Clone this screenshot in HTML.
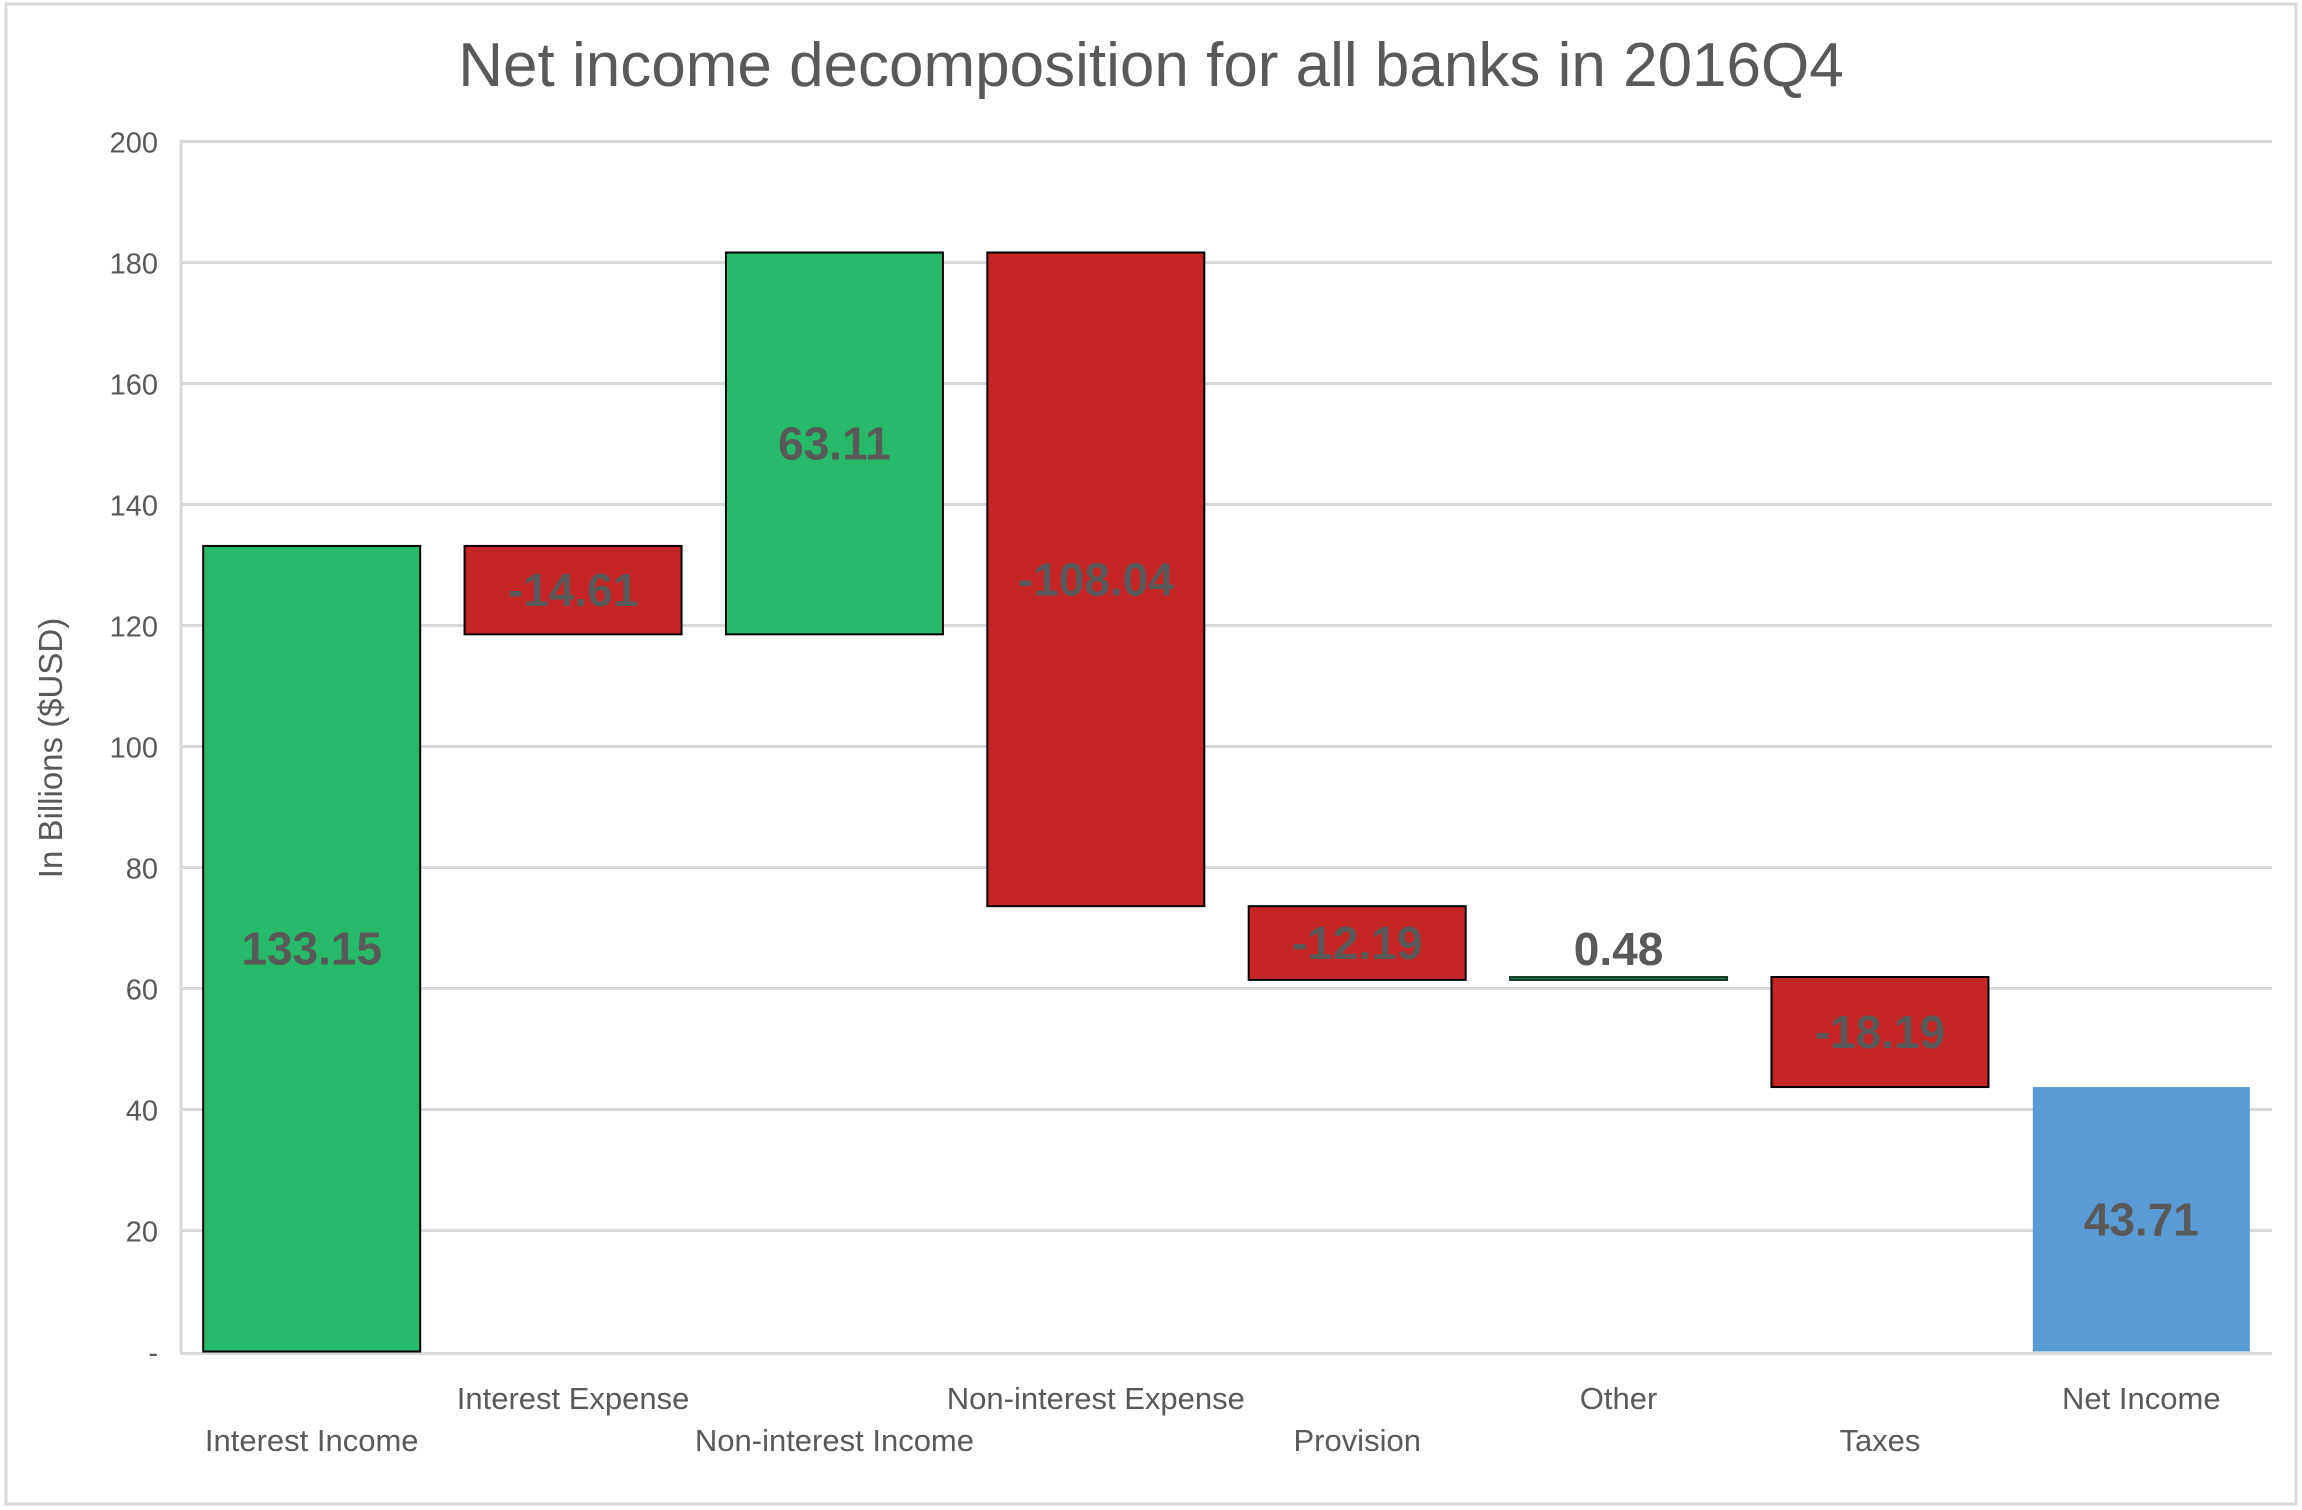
<!DOCTYPE html>
<html><head><meta charset="utf-8"><style>
html,body{margin:0;padding:0;background:#fff;}
svg{display:block;font-family:"Liberation Sans",sans-serif;}
</style></head><body>
<svg id="chart" width="2302" height="1510" viewBox="0 0 2302 1510">
<rect x="6" y="4" width="2290" height="1500" fill="#fff" stroke="#d9d9d9" stroke-width="3"/>
<text x="1151" y="86" text-anchor="middle" font-size="62" fill="#595959">Net income decomposition for all banks in 2016Q4</text>
<text transform="translate(62,748) rotate(-90)" text-anchor="middle" font-size="33" fill="#595959">In Billions ($USD)</text>
<g id="grid"></g><g id="bars"></g><g id="labels"></g><g id="xlabels"></g>
</svg>
<script>
const categories=["Interest Income","Interest Expense","Non-interest Income","Non-interest Expense","Provision","Other","Taxes","Net Income"];
const deltas=[133.15,-14.61,63.11,-108.04,-12.19,0.48,-18.19,43.71];
const isTotal=[false,false,false,false,false,false,false,true];
const yTicks=[0,20,40,60,80,100,120,140,160,180,200];
const yTickLabels=["-","20","40","60","80","100","120","140","160","180","200"];
const NS="http://www.w3.org/2000/svg";
const plotL=181,plotR=2272,y0=1351.5,pxPer=6.05,bandW=(plotR-plotL)/categories.length,barW=217;
const y=v=>y0-v*pxPer, xc=i=>plotL+bandW*(i+0.5);
function mk(tag,attrs,parent){const e=document.createElementNS(NS,tag);for(const k in attrs)e.setAttribute(k,attrs[k]);parent.appendChild(e);return e;}
const grid=document.getElementById('grid');
yTicks.forEach((t,i)=>{
  if(t>0){const l=mk('line',{x1:plotL,x2:plotR,y1:y(t),y2:y(t),stroke:'#d9d9d9','stroke-width':3},grid);
  
  }
  const tx=mk('text',{x:158,y:y(t)+11,'text-anchor':'end','font-size':29,fill:'#595959'},grid);
  tx.textContent=yTickLabels[i];
  
  
});
const ax=mk('line',{x1:plotL,x2:plotR,y1:y0+2,y2:y0+2,stroke:'#d9d9d9','stroke-width':3},grid);


const ay=mk('line',{x1:plotL,x2:plotL,y1:y(200)-2,y2:y0+3,stroke:'#d9d9d9','stroke-width':3},grid);


const bars=document.getElementById('bars'),labels=document.getElementById('labels'),xl=document.getElementById('xlabels');
let run=0;
categories.forEach((c,i)=>{
  const d=deltas[i];let lo,hi;
  if(isTotal[i]){lo=0;hi=d;}else{lo=Math.min(run,run+d);hi=Math.max(run,run+d);run+=d;}
  const x=xc(i)-barW/2;let fill,stroke='#000';
  if(isTotal[i]){fill='#5b9bd5';stroke='none';}else if(i===5){fill='#1e7a45';stroke='#1a3a2a';}else fill=d>=0?'#27ba6a':'#c62525';
  const small=(y(lo)-y(hi))<6;
  const r=mk('rect',{x:x,y:y(hi),width:barW,height:Math.max(y(lo)-y(hi),3),fill:fill,stroke:stroke,'stroke-width':2},bars);
  
  
  const ly=small?y(hi)-12:(y(hi)+y(lo))/2+16;
  const t=mk('text',{x:xc(i),y:ly,'text-anchor':'middle','font-size':46,'font-weight':'bold',fill:'#595959'},labels);
  t.textContent=d.toFixed(2);
  
  
  const xt=mk('text',{x:xc(i),y:i%2===0?1451:1409,'text-anchor':'middle','font-size':31,fill:'#595959'},xl);
  xt.textContent=c;
  
  
});
</script>
</body></html>
